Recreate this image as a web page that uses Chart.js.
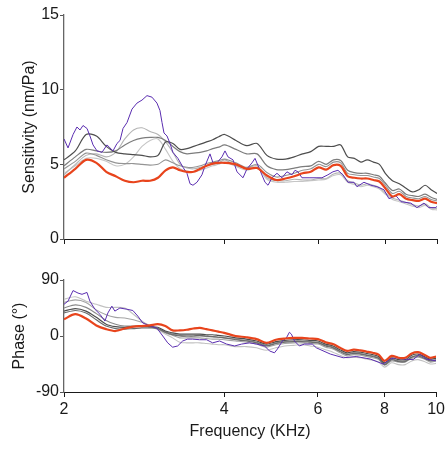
<!DOCTYPE html>
<html>
<head>
<meta charset="utf-8">
<script src="https://cdn.jsdelivr.net/npm/chart.js@4.4.0/dist/chart.umd.min.js"></script>
<style>
  html, body { margin: 0; padding: 0; background: #fff; }
  #wrap { position: relative; width: 448px; height: 450px; }
  canvas { position: absolute; left: 0; }
</style>
</head>
<body>
<div id="wrap">
  <canvas id="sensChart" width="448" height="255" style="top:0"></canvas>
  <canvas id="phaseChart" width="448" height="195" style="top:255px"></canvas>
</div>
<script>
// frequency grid (kHz) shared by the smooth traces
const freq = [2.0, 2.1, 2.2, 2.3, 2.4, 2.5, 2.6, 2.7, 2.8, 2.9, 3.0, 3.1, 3.2, 3.3, 3.4, 3.5, 3.6, 3.7, 3.8, 3.9, 4.0,
  4.2, 4.4, 4.6, 4.8, 5.0, 5.2, 5.4, 5.6, 5.8, 6.0, 6.2, 6.4, 6.6, 6.8, 7.0, 7.2, 7.4, 7.6, 7.8, 8.0,
  8.25, 8.5, 8.75, 9.0, 9.25, 9.5, 9.75, 10];

const freqTicks = [2, 4, 6, 8, 10];
const sensTicks = [0, 5, 10, 15];
const phaseTicks = [-90, 0, 90];

// sensitivity (nm/Pa)
const sensRed = [4.1, 4.7, 5.3, 5.1, 4.5, 4.2, 3.9, 3.8, 3.9, 3.9, 4.1, 4.6, 4.8, 4.6, 4.5, 4.5, 4.7, 4.9, 5.05, 5.1, 5.1,
  5.0, 4.7, 4.75, 4.25, 3.95, 4.05, 4.2, 4.4, 4.5, 4.8, 4.65, 4.95, 4.9, 4.2, 4.1, 4.05, 4.05, 3.95, 3.85, 3.4,
  2.85, 3.0, 2.7, 2.6, 2.55, 2.7, 2.5, 2.4];
const sensDark = [5.3, 5.9, 7.0, 6.9, 6.2, 5.8, 5.7, 5.65, 5.6, 5.5, 5.6, 6.5, 6.4, 6.0, 6.05, 6.2, 6.35, 6.5, 6.65, 6.85, 7.0,
  6.6, 6.25, 6.4, 5.6, 5.35, 5.35, 5.5, 5.7, 5.85, 6.2, 6.2, 6.2, 6.3, 5.5, 5.4, 5.15, 5.3, 5.15, 5.0, 4.4,
  3.9, 3.7, 3.4, 3.15, 3.3, 3.6, 3.3, 3.05];
const sensGrayA = [4.9, 5.5, 6.0, 5.9, 5.8, 5.9, 6.3, 6.6, 6.75, 6.8, 6.8, 6.6, 6.2, 5.85, 5.7, 5.75, 5.8, 5.9, 6.05, 6.15, 6.3,
  6.0, 5.7, 5.7, 4.9, 4.65, 4.65, 4.75, 4.85, 4.9, 5.2, 5.0, 5.3, 5.25, 4.6, 4.45, 4.4, 4.4, 4.3, 4.2, 3.75,
  3.25, 3.35, 3.0, 2.9, 2.85, 3.0, 2.8, 2.65];
const sensGrayB = [4.7, 5.2, 5.75, 5.6, 5.3, 5.1, 5.05, 5.05, 5.0, 4.95, 5.0, 5.3, 5.1, 4.9, 4.8, 4.8, 4.9, 5.05, 5.15, 5.25, 5.35,
  5.1, 4.8, 5.0, 4.45, 4.15, 4.25, 4.4, 4.6, 4.7, 5.0, 4.85, 5.15, 5.1, 4.4, 4.3, 4.25, 4.25, 4.15, 4.05, 3.6,
  3.05, 3.2, 2.85, 2.75, 2.7, 2.85, 2.65, 2.55];
const sensLightA = [4.3, 5.0, 5.6, 5.7, 5.5, 5.8, 6.7, 7.3, 7.45, 7.2, 7.0, 6.5, 5.8, 5.0, 4.75, 4.7, 4.8, 4.9, 5.0, 5.1, 5.3,
  4.9, 4.75, 4.9, 4.1, 3.9, 3.9, 4.0, 3.95, 3.95, 4.05, 4.05, 4.35, 4.4, 3.9, 3.75, 3.6, 3.7, 3.6, 3.45, 3.1,
  2.75, 2.6, 2.45, 2.3, 2.2, 2.35, 2.1, 2.05];
const sensLightB = [4.4, 4.9, 5.4, 5.4, 5.2, 4.9, 5.0, 5.5, 6.2, 6.6, 6.7, 6.0, 5.2, 4.7, 4.55, 4.5, 4.6, 4.75, 4.9, 5.0, 5.15,
  4.85, 4.6, 4.8, 4.0, 3.8, 3.8, 3.85, 3.85, 3.9, 3.95, 4.0, 4.25, 4.3, 3.8, 3.65, 3.5, 3.6, 3.5, 3.35, 3.0,
  2.65, 2.5, 2.35, 2.2, 2.1, 2.25, 2.0, 1.95];

// the noisy trace has its own, denser frequency list
const freqPurpleSens = [2.0, 2.035, 2.08, 2.115, 2.143, 2.171, 2.209, 2.237, 2.267, 2.306, 2.356, 2.408, 2.439, 2.471, 2.514,
  2.547, 2.58, 2.625, 2.682, 2.74, 2.8, 2.861, 2.923, 2.987, 3.026, 3.053, 3.079, 3.119, 3.16, 3.2, 3.27, 3.342, 3.4,
  3.445, 3.489, 3.55, 3.627, 3.675, 3.755, 3.804, 3.87, 3.954, 4.006, 4.058, 4.147, 4.219, 4.33, 4.405, 4.501, 4.56,
  4.659, 4.761, 4.823, 4.906, 5.013, 5.122, 5.234, 5.348, 5.418, 5.488, 5.584, 5.78, 5.957, 6.087, 6.246, 6.383,
  6.522, 6.664, 6.81, 6.989, 7.079, 7.297, 7.52, 7.718, 7.954, 8.128, 8.377, 8.56, 8.936, 9.171, 9.453, 9.66, 9.955, 10];
const sensPurple = [6.7, 6.1, 7.0, 7.5, 7.3, 7.6, 7.4, 6.9, 6.3, 5.9, 5.8, 6.3, 6.1, 5.9, 6.4,
  6.6, 7.4, 7.8, 8.7, 9.1, 9.3, 9.6, 9.5, 9.1, 8.6, 7.8, 7.1, 6.9, 6.4, 5.8, 5.4, 4.8, 4.4,
  3.7, 3.6, 3.8, 4.3, 4.9, 5.7, 5.1, 5.1, 5.5, 5.9, 5.5, 5.3, 4.5, 4.1, 4.7, 5.1, 5.4,
  4.6, 3.8, 3.6, 4.1, 4.4, 4.1, 4.5, 4.3, 4.6, 4.5, 4.1, 4.1, 4.1, 4.1, 4.3, 4.5,
  4.6, 4.3, 3.8, 3.8, 3.5, 3.8, 3.6, 3.5, 3.3, 2.7, 2.9, 2.5, 2.4, 2.1, 2.4, 2.1, 2.1, 2.2];

// phase (degrees)
const phaseRed = [27, 35, 28, 17, 11, 8, 12, 15, 16, 17, 19, 16, 9, 9, 10, 12, 13, 11, 9, 7, 5,
  0, -2, -5, -11, -6, -4, -3, -3, -4, -5, -10, -13, -19, -24, -22, -23, -25, -27, -30, -40,
  -32, -35, -35, -28, -26, -30, -35, -33];
const phaseLightA = [59, 63, 56, 51, 46, 46, 45, 35, 24, 16, 10, 3, -3, -10, -11, -11, -11, -12, -13, -14, -14,
  -17, -17, -19, -23, -19, -16, -15, -14, -16, -18, -22, -26, -31, -35, -34, -35, -37, -39, -42, -50,
  -43, -46, -46, -40, -38, -41, -45, -44];
const phaseLightB = [54, 58, 54, 42, 34, 30, 29, 26, 22, 17, 11, 5, 1, -3, -3, -3, -3, -4, -5, -5, -6,
  -8, -10, -13, -18, -14, -12, -11, -11, -12, -13, -18, -21, -27, -32, -30, -31, -33, -35, -38, -47,
  -40, -42, -42, -36, -34, -37, -42, -40];
const phaseGray = [45, 50, 46, 36, 25, 19, 16, 16, 16, 15, 12, 7, 3, 1, 0, 0, 0, -1, -1, -2, -3,
  -5, -7, -10, -15, -11, -9, -8, -8, -9, -10, -15, -18, -24, -29, -27, -28, -30, -32, -35, -45,
  -37, -40, -40, -34, -31, -34, -39, -38];
const phaseDark = [40, 44, 40, 30, 19, 15, 14, 15, 16, 15, 14, 8, 5, 3, 3, 3, 3, 2, 2, 1, 0,
  -3, -5, -8, -13, -9, -7, -6, -6, -7, -8, -13, -16, -22, -27, -25, -26, -28, -30, -33, -43,
  -35, -38, -38, -31, -29, -33, -37, -36];
const phaseDarkB = [37, 41, 37, 26, 16, 12, 11, 12, 13, 13, 12, 6, 2, 0, 0, 0, 1, 0, -1, -2, -3,
  -6, -8, -11, -16, -12, -10, -9, -9, -10, -11, -16, -19, -25, -30, -28, -29, -31, -33, -36, -46,
  -38, -41, -41, -34, -32, -36, -40, -39];

const freqPurplePhase = [2.0, 2.035, 2.08, 2.125, 2.162, 2.209, 2.237, 2.286, 2.336, 2.387, 2.418, 2.46, 2.492, 2.547,
  2.625, 2.694, 2.752, 2.812, 2.898, 2.987, 3.066, 3.132, 3.2, 3.27, 3.342, 3.414, 3.489, 3.596, 3.706, 3.804, 3.92,
  4.041, 4.183, 4.311, 4.463, 4.599, 4.761, 4.864, 4.97, 5.034, 5.145, 5.234, 5.302, 5.348, 5.418, 5.536, 5.657,
  5.855, 5.957, 6.328, 6.693, 7.079, 7.52, 7.954, 8.198, 8.413, 8.672, 9.052, 9.331, 9.576, 10];
const phasePurple = [51, 56, 73, 69, 67, 70, 56, 43, 35, 24, 37, 48, 40, 45,
  43, 41, 32, 21, 16, 13, 0, -11, -18, -16, -8, -5, -5, -6, -6, -11, -8,
  -13, -16, -13, -11, -13, -16, -24, -27, -21, -8, -3, 6, 3, -8, -16, -13,
  -13, -19, -29, -35, -33, -37, -45, -37, -35, -37, -38, -29, -37, -40];

const FONT = { family: '"Liberation Sans", Arial, Helvetica, sans-serif', size: 16 };
const INK = '#1a1a1a';

function pts(xs, ys) {
  return xs.map((x, i) => ({ x: x, y: ys[i] }));
}

function trace(xs, ys, color, width, tension) {
  return {
    data: pts(xs, ys),
    borderColor: color,
    borderWidth: width,
    pointRadius: 0,
    fill: false,
    tension: tension
  };
}

function freqAxis(showLabels, height, title) {
  return {
    type: 'logarithmic',
    min: 2,
    max: 10,
    afterBuildTicks: s => { s.ticks = freqTicks.map(v => ({ value: v })); },
    afterFit: s => { s.height = height; },
    ticks: {
      display: showLabels, font: FONT, color: INK, padding: 3,
      maxRotation: 0, autoSkip: false, callback: v => String(v)
    },
    grid: { drawOnChartArea: false, drawTicks: true, tickLength: 5, color: INK },
    border: { display: true, color: INK, width: 1 },
    title: title
      ? { display: true, text: title, font: FONT, color: INK, padding: { top: 0, bottom: 9 } }
      : { display: false }
  };
}

// value axis: the vertical line is drawn a little softer than the frequency axis
function valueAxis(min, max, tickList, title, titlePad) {
  return {
    min: min,
    max: max,
    afterBuildTicks: s => { s.ticks = tickList.map(v => ({ value: v })); },
    afterFit: s => { s.width = 64; },
    ticks: { font: FONT, color: INK, padding: 1 },
    grid: { drawOnChartArea: false, drawTicks: true, tickLength: 4, color: '#555' },
    border: { display: true, color: '#666', width: 1.3 },
    title: { display: true, text: title, font: FONT, color: INK, padding: { top: titlePad, bottom: 0 } }
  };
}

const baseOptions = {
  responsive: false,
  animation: false,
  plugins: { legend: { display: false }, tooltip: { enabled: false } }
};

// top panel: sensitivity
new Chart(document.getElementById('sensChart'), {
  type: 'line',
  data: {
    datasets: [
      trace(freq, sensRed, '#e8441c', 2.2, 0.3),
      trace(freqPurpleSens, sensPurple, '#5a2db0', 1, 0),
      trace(freq, sensDark, '#4d4d4d', 1.2, 0.3),
      trace(freq, sensGrayA, '#7c7c7c', 1.2, 0.3),
      trace(freq, sensGrayB, '#949494', 1.1, 0.3),
      trace(freq, sensLightA, '#b4b4b4', 1.1, 0.3),
      trace(freq, sensLightB, '#c6c6c6', 1.1, 0.3)
    ]
  },
  options: Object.assign({}, baseOptions, {
    layout: { padding: { left: 0, right: 11, top: 15, bottom: 0 } },
    scales: {
      x: freqAxis(false, 16, null),
      y: valueAxis(0, 15, sensTicks, 'Sensitivity (nm/Pa)', 20)
    }
  })
});

// bottom panel: phase
new Chart(document.getElementById('phaseChart'), {
  type: 'line',
  data: {
    datasets: [
      trace(freq, phaseRed, '#e8441c', 2.2, 0.3),
      trace(freqPurplePhase, phasePurple, '#5a2db0', 1, 0),
      trace(freq, phaseDark, '#4d4d4d', 1.2, 0.3),
      trace(freq, phaseDarkB, '#6a6a6a', 1.2, 0.3),
      trace(freq, phaseGray, '#8a8a8a', 1.1, 0.3),
      trace(freq, phaseLightB, '#a4a4a4', 1.1, 0.3),
      trace(freq, phaseLightA, '#c2c2c2', 1.1, 0.3)
    ]
  },
  options: Object.assign({}, baseOptions, {
    layout: { padding: { left: 0, right: 11, top: 25, bottom: 0 } },
    scales: {
      x: freqAxis(true, 58, 'Frequency (KHz)'),
      y: valueAxis(-90, 90, phaseTicks, 'Phase (°)', 10)
    }
  })
});
</script>
</body>
</html>
